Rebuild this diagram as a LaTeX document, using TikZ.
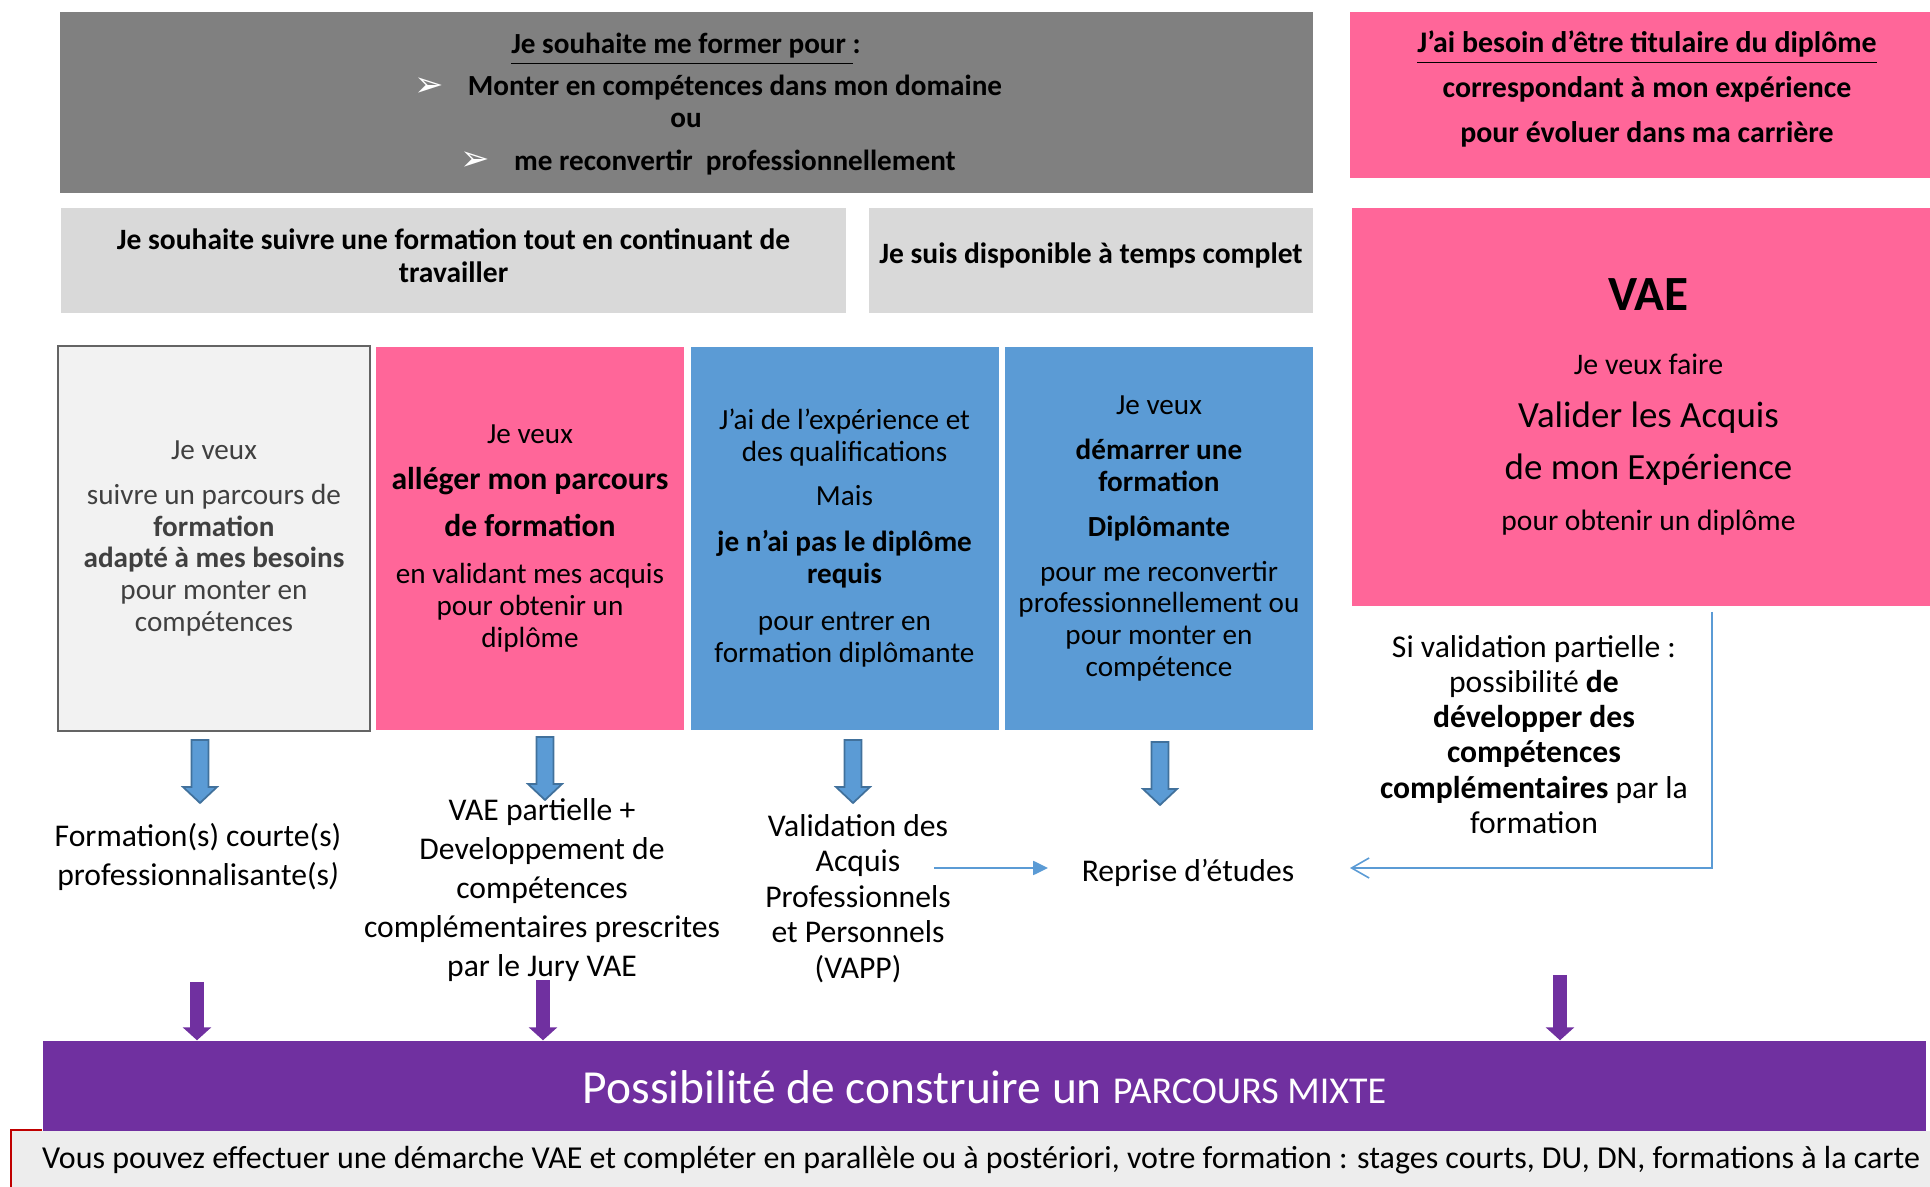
\documentclass[tikz,border=0pt]{standalone}
\usepackage{fontspec}
\setmainfont{Carlito}
\newfontfamily\symbfont{DejaVu Sans}
\usetikzlibrary{arrows.meta,positioning}

\definecolor{titlegray}{RGB}{128,128,128}
\definecolor{boxgray}{RGB}{217,217,217}
\definecolor{vaepink}{RGB}{255,102,153}
\definecolor{vaeblue}{RGB}{91,155,213}
\definecolor{arrowedge}{RGB}{65,113,156}
\definecolor{mixpurple}{RGB}{112,48,160}
\definecolor{notegray}{RGB}{237,237,237}
\definecolor{markred}{RGB}{192,0,0}
\definecolor{paleface}{RGB}{242,242,242}
\definecolor{frameedge}{RGB}{100,100,100}
\definecolor{softtext}{RGB}{64,64,64}

\tikzset{
  panel/.style={inner sep=0pt, align=center, font=\fontsize{8.3}{9.1}\selectfont},
  headfont/.style={font=\bfseries\fontsize{8.3}{9}\selectfont},
  lowtext/.style={align=center, inner sep=0pt, font=\fontsize{9}{11.1}\selectfont},
  flowline/.style={draw=vaeblue, line width=0.45pt},
  purplearrow/.style={draw=mixpurple, line width=0.14cm, -{Triangle[length=0.13cm,width=0.28cm]}},
  bluedown/.pic={
    \filldraw[fill=vaeblue, draw=arrowedge, line width=0.5pt, line join=miter]
      (-0.085,0) -- (0.085,0) -- (0.085,-0.47) -- (0.17,-0.47) -- (0,-0.63)
      -- (-0.17,-0.47) -- (-0.085,-0.47) -- cycle;
  },
}

\begin{document}
\begin{tikzpicture}
\useasboundingbox (0,0) rectangle (19.30,-11.87);
\clip (0,0) rectangle (19.30,-11.87);

% top row
\node[panel, fill=titlegray, minimum width=12.53cm, minimum height=1.81cm] (goal) at (6.865,-1.025) {};
\node[anchor=base, headfont] (goalhead) at (6.86,-0.54) {\underline{Je souhaite me former pour\ }:};
\node[text=white, font=\symbfont\fontsize{10}{11}\selectfont] (bullet1) at (4.29,-0.87) {➢};
\node[anchor=base, headfont] (goal1) at (7.35,-0.96) {Monter en compétences dans mon domaine};
\node[anchor=base, headfont] (goalor) at (6.86,-1.28) {ou};
\node[text=white, font=\symbfont\fontsize{10}{11}\selectfont] (bullet2) at (4.75,-1.61) {➢};
\node[anchor=base, headfont] (goal2) at (7.35,-1.71) {me reconvertir\ \ professionnellement};

\node[panel, fill=vaepink, minimum width=5.94cm, minimum height=1.66cm, text depth=0.17cm, font=\bfseries\fontsize{8.5}{12.8}\selectfont] (need) at (16.47,-0.955)
  {\underline{J’ai besoin d’être titulaire du diplôme}\\correspondant à mon expérience\\pour évoluer dans ma carrière};

% second row
\node[panel, fill=boxgray, minimum width=7.85cm, minimum height=1.05cm, text depth=0.1cm, font=\bfseries\fontsize{8.4}{9.4}\selectfont] (work) at (4.535,-2.605)
  {Je souhaite suivre une formation tout en continuant de\\travailler};
\node[panel, fill=boxgray, minimum width=4.44cm, minimum height=1.05cm, text depth=0.14cm, font=\bfseries\fontsize{8.4}{9.4}\selectfont] (fulltime) at (10.91,-2.605)
  {Je suis disponible à temps complet};

% VAE
\node[panel, fill=vaepink, minimum width=5.93cm, minimum height=3.98cm] (vae) at (16.485,-4.07) {};
\node[anchor=base, font=\bfseries\fontsize{14}{16}\selectfont] (vaetitle) at (16.485,-3.11) {VAE};
\node[anchor=base, font=\fontsize{8.5}{10}\selectfont] (vaewant) at (16.485,-3.75) {Je veux faire};
\node[anchor=base, font=\fontsize{10.5}{12}\selectfont] (vaeval1) at (16.485,-4.28) {Valider les Acquis};
\node[anchor=base, font=\fontsize{10.5}{12}\selectfont] (vaeval2) at (16.485,-4.80) {de mon Expérience};
\node[anchor=base, font=\fontsize{8.4}{10}\selectfont] (vaegoal) at (16.485,-5.31) {pour obtenir un diplôme};

% columns
\node[panel, fill=paleface, draw=frameedge, line width=0.85pt, text=softtext, minimum width=3.12cm, minimum height=3.85cm] (adapt) at (2.14,-5.385)
  {Je veux\\[3.7pt]suivre un parcours de\\\textbf{formation}\\\textbf{adapté à mes besoins}\\pour monter en\\compétences};
\node[panel, fill=vaepink, minimum width=3.08cm, minimum height=3.83cm] (lighten) at (5.30,-5.385)
  {Je veux\\[4pt]{\bfseries\fontsize{9}{9.1}\selectfont alléger mon parcours}\\[4.2pt]{\bfseries\fontsize{9}{9.1}\selectfont de formation}\\[4.5pt]en validant mes acquis\\pour obtenir un\\diplôme};
\node[panel, fill=vaeblue, minimum width=3.08cm, minimum height=3.83cm] (nodiploma) at (8.445,-5.385)
  {J’ai de l’expérience et\\des qualifications\\[3.4pt]Mais\\[4pt]\textbf{je n’ai pas le diplôme}\\\textbf{requis}\\[4.3pt]pour entrer en\\formation diplômante};
\node[panel, fill=vaeblue, minimum width=3.08cm, minimum height=3.83cm] (start) at (11.59,-5.385)
  {Je veux\\[3.7pt]\textbf{démarrer une}\\\textbf{formation}\\[3.7pt]\textbf{Diplômante}\\[3.7pt]pour me reconvertir\\professionnellement ou\\pour monter en\\compétence};

\pic at (2.00,-7.40) {bluedown};
\pic at (5.45,-7.37) {bluedown};
\pic at (8.53,-7.40) {bluedown};
\pic at (11.60,-7.42) {bluedown};

% outcomes
\node[lowtext] (short) at (1.98,-8.57) {Formation(s) courte(s)\\professionnalisante(s\textit{)}};
\node[lowtext] (partvae) at (5.42,-8.90) {VAE partielle +\\Developpement de\\compétences\\complémentaires prescrites\\par le Jury VAE};
\node[lowtext, font=\fontsize{9}{10.1}\selectfont] (vapp) at (8.58,-8.985) {Validation des\\Acquis\\Professionnels\\et Personnels\\(VAPP)};
\node[lowtext] (reprise) at (11.88,-8.73) {Reprise d’études};
\node[lowtext, font=\fontsize{9}{10}\selectfont] (partial) at (15.34,-7.345)
  {Si validation partielle :\\possibilité \textbf{de}\\\textbf{développer des}\\\textbf{compétences}\\\textbf{complémentaires} par la\\formation};

\coordinate (vappout) at (9.34,-8.68);
\coordinate (reprisein) at (10.48,-8.68);
\draw[flowline, -{Triangle[length=4.2pt,width=4pt]}] (vappout) -- (reprisein);
\coordinate (retour) at (17.12,-6.12);
\coordinate (retourend) at (13.50,-8.68);
\draw[flowline, -{Straight Barb[length=5pt,width=5.7pt]}] (retour) |- (retourend);

% bottom
\node[fill=mixpurple, minimum width=18.83cm, minimum height=0.92cm, inner sep=0pt, text=white, font=\fontsize{13.5}{15}\selectfont] (mixte) at (9.845,-10.87)
  {Possibilité de construire un {\fontsize{10.8}{12}\selectfont PARCOURS MIXTE}};
\node[fill=notegray, minimum width=19.38cm, minimum height=0.58cm, inner sep=0pt, font=\fontsize{9.1}{10.5}\selectfont] (note) at (9.81,-11.60)
  {Vous pouvez effectuer une démarche VAE et compléter en parallèle ou à postériori, votre formation : stages courts, DU, DN, formations à la carte};
\draw[markred, line width=0.65pt] (note.south west) |- ([xshift=0.31cm]note.north west);

\coordinate (mix1) at (1.97,-9.82);
\coordinate (mix2) at (5.43,-9.80);
\coordinate (mix3) at (15.60,-9.75);
\draw[purplearrow] (mix1) -- (mix1 |- mixte.north);
\draw[purplearrow] (mix2) -- (mix2 |- mixte.north);
\draw[purplearrow] (mix3) -- (mix3 |- mixte.north);
\end{tikzpicture}
\end{document}
